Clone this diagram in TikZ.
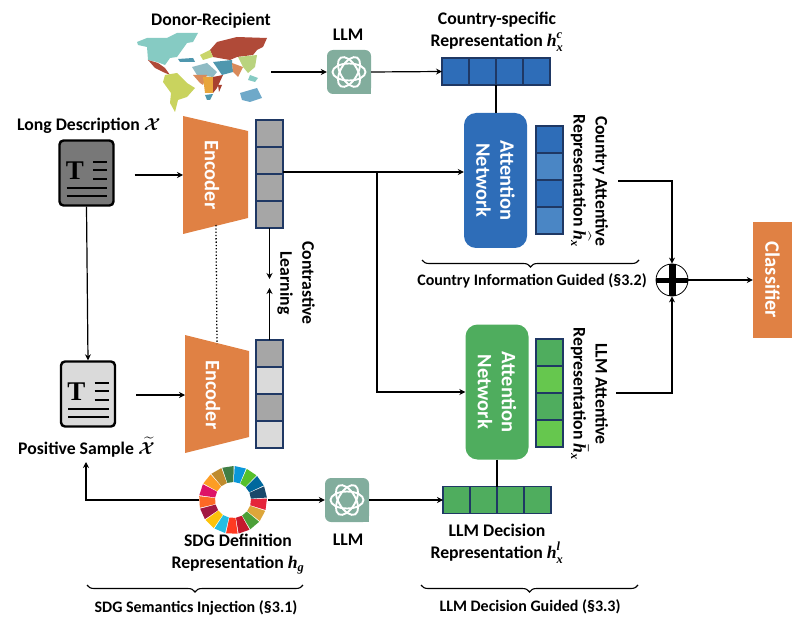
\documentclass[tikz,border=0pt]{standalone}
\usepackage{amsmath}
\usepackage{fontspec}
\setmainfont{Carlito}[BoldFont={Carlito Bold}]
\newfontfamily\tfont{Liberation Serif}
\newcommand{\mi}[1]{\text{\tfont\bfseries\itshape #1}}
\usetikzlibrary{arrows.meta,decorations.pathreplacing}
\definecolor{orangeB}{HTML}{E08144}
\definecolor{navyE}{HTML}{1F3864}
\definecolor{blueA}{HTML}{2E6DB8}
\definecolor{blueB}{HTML}{4A86C5}
\definecolor{greenA}{HTML}{4FAD5E}
\definecolor{greenB}{HTML}{66C74E}
\definecolor{grayA}{HTML}{A6A6A6}
\definecolor{grayB}{HTML}{DADADA}
\definecolor{logoC}{HTML}{82AD9D}
\tikzset{
  x=1pt,y=-1pt,
  lab/.style={font=\fontsize{17.7}{22}\selectfont\bfseries\boldmath,inner sep=0pt,align=center},
  small/.style={font=\fontsize{16}{19}\selectfont\bfseries,inner sep=0pt,align=center},
  white label/.style={font=\fontsize{20.5}{24}\selectfont\bfseries,text=white,inner sep=0pt,align=center,rotate=-90},
  conn/.style={line width=1.2pt,draw=black},
  arr/.style={conn,-{Stealth[length=6pt,width=6pt]}},
  cell/.style={draw=navyE,line width=1.2pt,minimum width=27pt,minimum height=27pt,inner sep=0pt,outer sep=0pt},
  attn/.style={rounded corners=12pt,minimum width=63pt,minimum height=135pt,inner sep=0pt},
  docbox/.style={draw=black,line width=2.4pt,rounded corners=4pt,minimum width=54pt,minimum height=65pt,inner sep=0pt},
  logobox/.style={fill=logoC,rounded corners=6pt,minimum width=44pt,minimum height=44pt,inner sep=0pt},
  bracestyle/.style={draw=black,line width=1.1pt,decorate,decoration={brace,amplitude=7pt}},
}
\newcommand{\llmlogo}[1]{%
  \fill[logoC] ([xshift=-8pt,yshift=8pt]#1.south east) rectangle (#1.south east);
  \foreach \r in {0,60,120}{\draw[white,line width=1.9pt,rotate around={\r:(#1.center)}] (#1.center) ellipse [x radius=16.5pt,y radius=8.5pt];}
}
\newcommand{\docicon}[1]{%
  \node[font=\fontsize{27}{27}\tfont\selectfont\bfseries,inner sep=0pt] at ([xshift=-11.5pt,yshift=2pt]#1.center) {T};
  \foreach \y in {11,3,-6}{\draw[line width=1.9pt] ([xshift=6.5pt,yshift=\y pt]#1.center) -- ([xshift=20.5pt,yshift=\y pt]#1.center);}
  \foreach \y in {-15,-23}{\draw[line width=1.9pt] ([xshift=-20pt,yshift=\y pt]#1.center) -- ([xshift=20.5pt,yshift=\y pt]#1.center);}
}
\begin{document}
\begin{tikzpicture}
\useasboundingbox (0,0) rectangle (808,636);
% ---- world map
\coordinate (mapE) at (271,72);
\definecolor{mA}{HTML}{86CBC3}\definecolor{mB}{HTML}{B04A38}\definecolor{mC}{HTML}{C9D35E}
\definecolor{mD}{HTML}{C9D56A}\definecolor{mE}{HTML}{8FBBC4}\definecolor{mF}{HTML}{D98A5A}
\definecolor{mG}{HTML}{E8A53C}\definecolor{mH}{HTML}{A8402F}\definecolor{mI}{HTML}{4F97AE}
\definecolor{mJ}{HTML}{6FA9C9}\definecolor{mK}{HTML}{B9D37E}
\fill[mA] (137,42)--(147,38)--(167,38)--(177,33)--(198,33)--(193,42)--(187,43)--(182,50)--(177,57)--(170,58)--(165,65)--(157,62)--(148,60)--(147,47)--(138,45)--cycle;
\fill[mB] (148,60)--(158,63)--(165,68)--(170,75)--(163,72)--(155,68)--cycle;
\fill[mC] (165,75)--(177,73)--(187,83)--(195,88)--(187,97)--(178,100)--(175,112)--(170,103)--(171,93)--(163,82)--cycle;
\fill[mB] (210,50)--(217,42)--(237,37)--(267,38)--(263,47)--(257,50)--(253,55)--(237,57)--(230,60)--(213,57)--cycle;
\fill[mD] (200,55)--(210,50)--(213,57)--(203,60)--cycle;
\fill[mI] (178,59)--(193,58)--(195,62)--(180,62)--cycle;
\fill[mE] (192,67)--(207,63)--(217,72)--(213,77)--(197,75)--cycle;
\fill[mF] (193,75)--(207,75)--(203,85)--(200,83)--cycle;
\fill[mG] (203,77)--(213,77)--(213,93)--(205,93)--cycle;
\fill[mH] (213,77)--(223,75)--(217,88)--(213,93)--cycle;
\fill[mI] (205,95)--(213,94)--(210,100)--(207,100)--cycle;
\fill[mH] (218,85)--(222,85)--(219,92)--cycle;
\fill[mI] (213,62)--(232,60)--(233,72)--(222,75)--cycle;
\fill[mF] (232,63)--(243,67)--(238,77)--(233,72)--cycle;
\fill[mK] (238,57)--(257,55)--(255,67)--(248,73)--(243,67)--cycle;
\fill[mA] (250,75)--(258,78)--(255,82)--(248,80)--cycle;
\fill[mJ] (240,93)--(257,88)--(262,98)--(250,102)--(242,100)--cycle;
% ---- top labels
\node[lab] (donor) at (211,21) {Donor-Recipient};
\node[lab] (llmtop) at (348,35) {LLM};
\node[lab] (ctrytop) at (497,32) {Country-specific\\Representation $\mi{h}_{\mi{x}}^{\mi{c}}$};
\node[lab,anchor=west] (longd) at (17,126) {Long Description $\mathcal{X}$};
\node[lab,anchor=west] (possam) at (18,447) {Positive Sample $\widetilde{\mathcal{X}}$};
\node[lab] (sdgl) at (238,554) {SDG Definition\\Representation $\mi{h}_{\mi{g}}$};
\node[lab] (llmbot) at (348,540) {LLM};
\node[lab] (llmd) at (497,544) {LLM Decision\\Representation $\mi{h}_{\mi{x}}^{\mi{l}}$};
% ---- logos
\node[logobox] (llm1) at (349,72) {};
\llmlogo{llm1}
\node[logobox] (llm2) at (347,500) {};
\llmlogo{llm2}
% ---- documents
\node[docbox,fill=black!53] (doc1) at (86.5,173) {};
\docicon{doc1}
\node[docbox,fill=grayB] (doc2) at (88,394) {};
\docicon{doc2}
% ---- encoders
\fill[orangeB] (183,116)--(248,131)--(248,218)--(183,234)--cycle;
\fill[orangeB] (185,335)--(249,351)--(249,437)--(185,453)--cycle;
\node[white label] (enc1) at (212,175) {Encoder};
\node[white label] (enc2) at (213,395) {Encoder};
\coordinate (enc1W) at (183,175);
\coordinate (enc2W) at (185,395);
\coordinate (enc1S) at (216,225);
\coordinate (enc2N) at (217,344);
% ---- gray vectors
\foreach \n/\y/\c in {a/133.5/grayA,b/160.5/grayA,c/187.5/grayA,d/214.5/grayA}
  \node[cell,fill=\c] (v1\n) at (269.5,\y) {};
\foreach \n/\y/\c in {a/353.5/grayA,b/380.5/grayB,c/407.5/grayA,d/434.5/grayB}
  \node[cell,fill=\c] (v2\n) at (269.5,\y) {};
% ---- horizontal representation bars
\foreach \n/\x in {a/455.5,b/482.5,c/509.5,d/536.5}
  \node[cell,fill=blueA] (hc\n) at (\x,71.5) {};
\foreach \n/\x in {a/456.5,b/483.5,c/510.5,d/537.5}
  \node[cell,fill=greenA] (hl\n) at (\x,500) {};
% ---- attention networks
\node[attn,fill=blueA] (att1) at (495.5,180.5) {};
\node[white label] at (att1.center) {Attention\\Network};
\node[attn,fill=greenA] (att2) at (497,392) {};
\node[white label] at (att2.center) {Attention\\Network};
% ---- attentive vectors
\foreach \n/\y/\c in {a/139.5/blueA,b/166.5/blueB,c/193.5/blueA,d/220.5/blueB}
  \node[cell,fill=\c] (ac\n) at (549.5,\y) {};
\foreach \n/\y/\c in {a/352.5/greenA,b/379.5/greenB,c/406.5/greenA,d/433.5/greenB}
  \node[cell,fill=\c] (al\n) at (549.5,\y) {};
% ---- rotated labels
\node[lab,rotate=-90] (contr) at (296,283) {Contrastive\\Learning};
\node[lab,rotate=-90] (catt) at (589.5,181) {Country Attentive\\Representation $\widehat{\mi{h}}_{\mi{x}}$};
\node[lab,rotate=-90] (latt) at (589.5,394) {LLM Attentive\\Representation $\bar{\mi{h}}_{\mi{x}}$};
\coordinate (cattE) at (618,181);
\coordinate (lattE) at (616,393);
% ---- classifier and sum
\node[fill=orangeB,minimum width=39pt,minimum height=116pt,inner sep=0pt] (cls) at (772.5,280) {};
\node[white label] at (cls.center) {Classifier};
\node[circle,draw=black,line width=0.8pt,fill=white,minimum size=32pt,inner sep=0pt] (sum) at (672,280) {};
\fill[black] (656,277.5) rectangle (688,282.5);
\fill[black] (668.5,264) rectangle (675.5,296);
% ---- SDG ring
\coordinate (sdg) at (233,500);
\begin{scope}[shift={(sdg)}]
\foreach \i/\c in {0/E5243B,1/DDA63A,2/4C9F38,3/C5192D,4/FF3A21,5/26BDE2,6/FCC30B,7/A21942,8/FD6925,9/DD1367,10/FD9D24,11/BF8B2E,12/3F7E44,13/0A97D9,14/56C02B,15/00689D,16/19486A}{
  \definecolor{sdgc}{HTML}{\c}
  \pgfmathsetmacro{\aa}{-2.5+\i*21.176}
  \pgfmathsetmacro{\ab}{\aa+19.5}
  \fill[sdgc] (\aa:18)--(\aa:34)--(\ab:34)--(\ab:18)--cycle;
}
\end{scope}
\coordinate (sdgW) at (199,500);
\coordinate (sdgE) at (268,500);
% ---- connectors
\draw[arr] (mapE) -- (llm1.west);
\draw[arr] (llm1.east) -- (hca.west);
\draw[conn] (hcc.south west) -- (att1.north -| hcc.south west);
\draw[arr,shorten <=20pt] (doc1.east |- enc1W) -- (enc1W);
\draw[arr,shorten <=20pt] (doc2.east |- enc2W) -- (enc2W);
\draw[arr] (doc1.south) -- (doc2.north);
\draw[line width=1.3pt,dotted] (enc1S) -- (enc2N);
\draw[arr] (v1d.south) -- ++(0,51);
\draw[arr] (v2a.north) -- ++(0,-52);
\coordinate (branch) at (377,172);
\draw[arr] (v1c.east |- branch) -- (branch) -- (att1.west |- branch);
\draw[arr] (branch) -- (377,392) -- (att2.west);
\draw[arr] (cattE) -- (672,181) -- (sum.north);
\draw[arr] (lattE) -- (672,393) -- (sum.south);
\draw[arr] (sum.east) -- (cls.west);
\draw[arr] (sdgW) -- (86,500) -- (86,462);
\draw[arr] (sdgE) -- (llm2.west);
\draw[arr] (llm2.east) -- (hla.west);
\draw[conn] (att2.south) -- (hlc.north west);
% ---- braces
\coordinate (b1a) at (422,260); \coordinate (b1b) at (639,260);
\coordinate (b2a) at (87,585);  \coordinate (b2b) at (303,585);
\coordinate (b3a) at (421,585); \coordinate (b3b) at (638,585);
\draw[bracestyle] (b1b) -- (b1a);
\draw[bracestyle] (b2b) -- (b2a);
\draw[bracestyle] (b3b) -- (b3a);
\node[small] (bl1) at (532,281) {Country Information Guided (§3.2)};
\node[small] (bl2) at (196,608) {SDG Semantics Injection (§3.1)};
\node[small] (bl3) at (530,607) {LLM Decision Guided (§3.3)};
\end{tikzpicture}
\end{document}
